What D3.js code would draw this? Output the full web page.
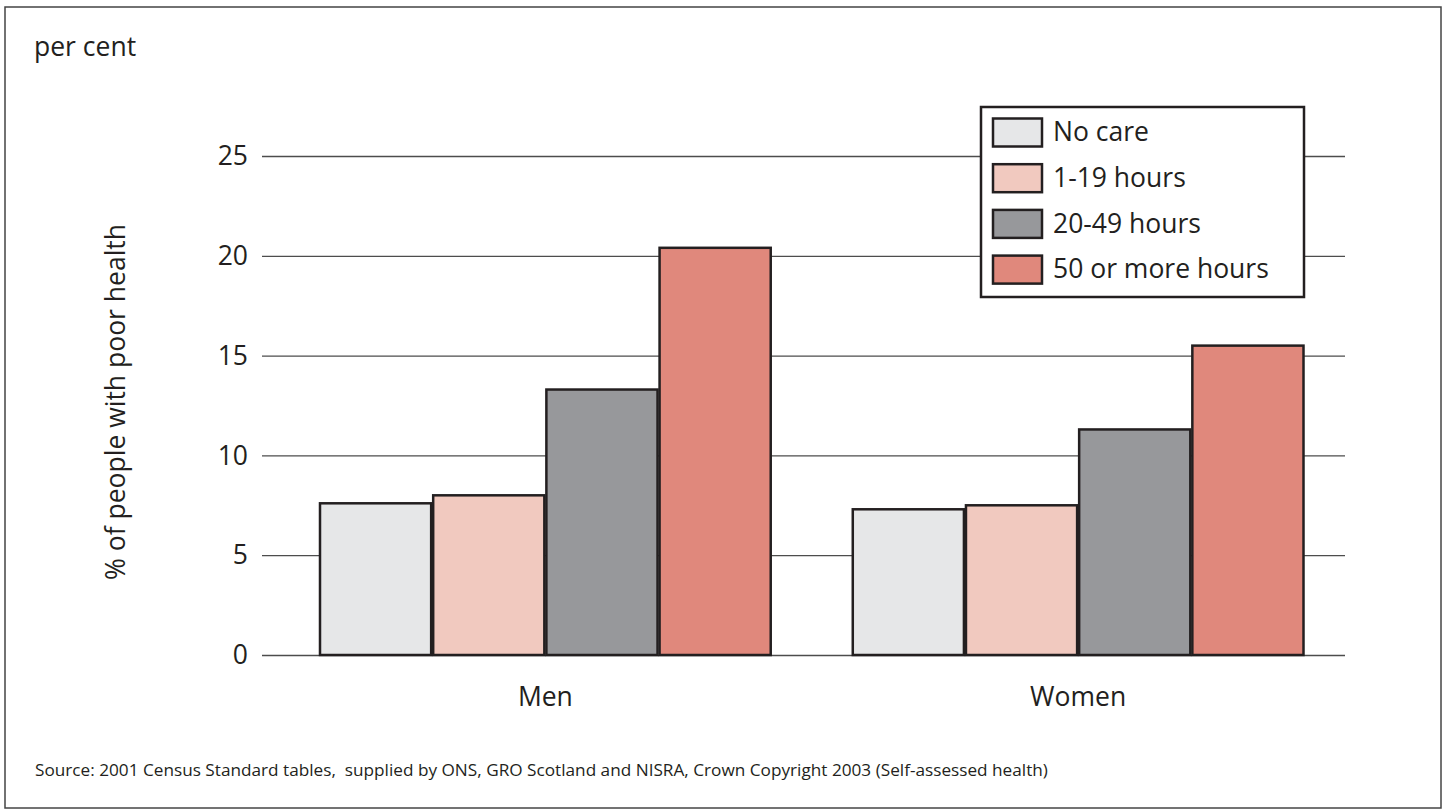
<!DOCTYPE html>
<html>
<head>
<meta charset="utf-8">
<script src="https://cdn.jsdelivr.net/npm/d3@7"></script>
<style>
  html, body { margin: 0; padding: 0; background: #fff; }
  svg text { font-family: "Open Sans", "Noto Sans", sans-serif; fill: #231f20; }
</style>
</head>
<body>
<svg id="chart" width="1446" height="810"></svg>
<script>
// Categories and series
const groups = ["Men", "Women"];
const series = ["No care", "1-19 hours", "20-49 hours", "50 or more hours"];
const seriesColors = ["#e6e7e8", "#f1c9bf", "#97989b", "#e0887c"];
const menValues = [7.6, 8.0, 13.3, 20.4];
const womenValues = [7.3, 7.5, 11.3, 15.5];
const yTicks = [0, 5, 10, 15, 20, 25];

const values = { Men: menValues, Women: womenValues };

const svg = d3.select("#chart");
const ink = "#231f20";
const bigFont = 26.5;

// Outer frame
svg.append("rect")
  .attr("x", 5).attr("y", 7).attr("width", 1436).attr("height", 801)
  .attr("fill", "none").attr("stroke", "#444").attr("stroke-width", 1.5);

// Scales
const y = d3.scaleLinear().domain([0, 25]).range([655, 156]);
const x0 = d3.scaleBand().domain(groups).range([320, 1303.5]).paddingInner(0.154).paddingOuter(0);
const x1 = d3.scaleBand().domain(series).range([0, x0.bandwidth()]).paddingInner(0.018);
const color = d3.scaleOrdinal().domain(series).range(seriesColors);

const gridLeft = 262, gridRight = 1345;

// Horizontal gridlines drawn as full-width axis ticks
const gy = svg.append("g").attr("transform", `translate(${gridRight},0)`);
gy.call(d3.axisRight(y).tickValues(yTicks).tickSize(-(gridRight - gridLeft)).tickFormat(""));
gy.select(".domain").remove();
gy.selectAll(".tick line").attr("stroke", "#4d4d4d").attr("stroke-width", 1.3);

// Tick labels
svg.append("g").selectAll("text").data(yTicks).join("text")
  .attr("x", 248).attr("y", d => y(d))
  .attr("dy", "0.35em")
  .attr("text-anchor", "end")
  .attr("font-size", bigFont)
  .text(d => d);

// Bars
const g = svg.append("g");
groups.forEach(grp => {
  g.append("g").attr("transform", `translate(${x0(grp)},0)`)
    .selectAll("rect").data(series.map((s, i) => ({ s, v: values[grp][i] }))).join("rect")
    .attr("x", d => x1(d.s))
    .attr("y", d => y(d.v))
    .attr("width", x1.bandwidth())
    .attr("height", d => y(0) - y(d.v))
    .attr("fill", d => color(d.s))
    .attr("stroke", ink).attr("stroke-width", 2.5);
});

// Category labels
svg.append("g").selectAll("text").data(groups).join("text")
  .attr("x", d => x0(d) + x0.bandwidth() / 2)
  .attr("y", 706)
  .attr("text-anchor", "middle")
  .attr("font-size", bigFont)
  .text(d => d);

// Axis titles
svg.append("text").attr("x", 34).attr("y", 56).attr("font-size", bigFont).text("per cent");
svg.append("text")
  .attr("transform", "translate(125,402) rotate(-90)")
  .attr("text-anchor", "middle")
  .attr("font-size", bigFont)
  .text("% of people with poor health");

// Legend
const lg = svg.append("g");
lg.append("rect").attr("x", 981).attr("y", 107).attr("width", 323).attr("height", 190)
  .attr("fill", "#fff").attr("stroke", ink).attr("stroke-width", 2.5);
const rows = lg.selectAll("g.row").data(series).join("g")
  .attr("class", "row")
  .attr("transform", (d, i) => `translate(993,${118.5 + i * 45.7})`);
rows.append("rect").attr("width", 49).attr("height", 28)
  .attr("fill", d => color(d)).attr("stroke", ink).attr("stroke-width", 2.5);
rows.append("text").attr("x", 60).attr("y", 14).attr("dy", "0.33em")
  .attr("font-size", bigFont).text(d => d);

// Source note
svg.append("text").attr("x", 35).attr("y", 776).attr("font-size", 17.2)
  .attr("xml:space", "preserve")
  .text("Source: 2001 Census Standard tables,  supplied by ONS, GRO Scotland and NISRA, Crown Copyright 2003 (Self-assessed health)");
</script>
</body>
</html>
